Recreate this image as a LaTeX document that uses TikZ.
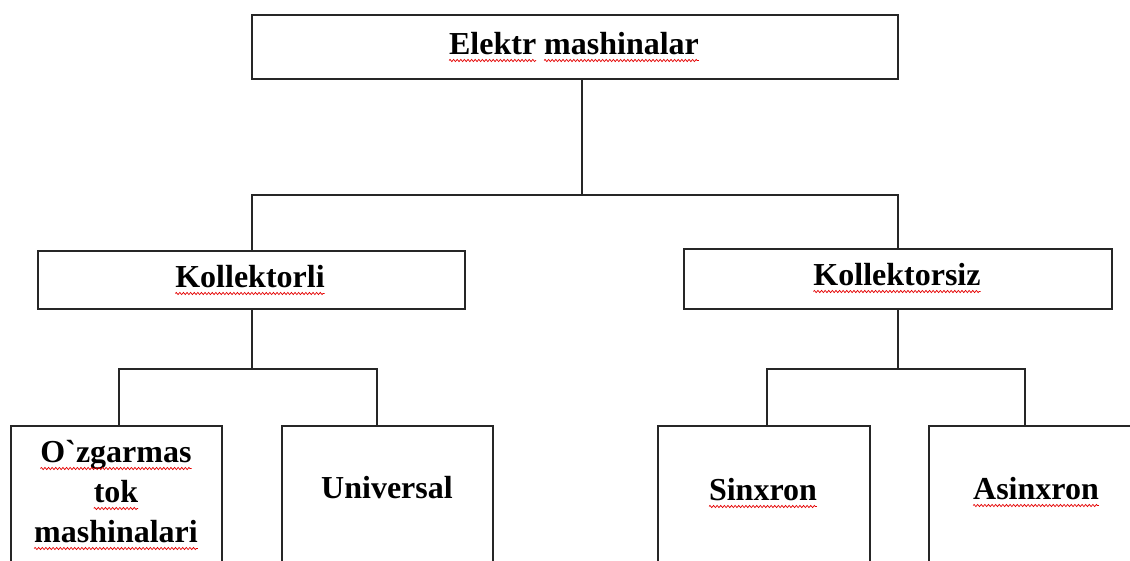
\documentclass[tikz,border=0pt]{standalone}
\usepackage{fontspec}
\setmainfont{Liberation Serif}[Ligatures=TeXOff]
\usetikzlibrary{calc,decorations.pathmorphing}
\tikzset{
  box/.style={draw=black!85, line width=1.8pt, rectangle, inner sep=0pt, outer sep=0pt, fill=white},
  conn/.style={draw=black!85, line width=1.8pt},
  lbl/.style={inner sep=0pt, outer sep=0pt, anchor=base, font=\bfseries\fontsize{32}{40}\selectfont},
  squig/.style={draw=red!90!black, line width=0.7pt, decorate, decoration={zigzag, amplitude=1.1pt, segment length=3.6pt}}
}
\begin{document}
\begin{tikzpicture}[x=1pt, y=-1pt]
\useasboundingbox (0,0) rectangle (1130,560);
\clip (0,0) rectangle (1130,560);
\fill[white] (0,0) rectangle (1130,560);

% boxes
\node[box, minimum width=646pt, minimum height=64pt] (top) at (575,47) {};
\node[box, minimum width=427pt, minimum height=58pt] (kl) at (251.5,280) {};
\node[box, minimum width=428pt, minimum height=60pt] (ks) at (898,279) {};
\node[box, minimum width=211pt, minimum height=200pt] (oz) at (116.5,526) {};
\node[box, minimum width=211pt, minimum height=200pt] (un) at (387.5,526) {};
\node[box, minimum width=212pt, minimum height=200pt] (sx) at (764,526) {};
\node[box, minimum width=211pt, minimum height=200pt] (as) at (1034.5,526) {};

% connectors
\coordinate (j0) at (582,195);
\coordinate (j0l) at (252,195);
\draw[conn] (top.south -| j0) -- (j0);
\draw[conn] (kl.north -| j0l) -- (j0l) -- (ks.north |- j0) -- (ks.north);

\coordinate (j1) at (252,369);
\coordinate (j1l) at (119,369);
\coordinate (j1r) at (377,369);
\draw[conn] (kl.south -| j1) -- (j1);
\draw[conn] (oz.north -| j1l) -- (j1l) -- (j1r) -- (un.north -| j1r);

\coordinate (j2) at (898,369);
\coordinate (j2l) at (767,369);
\coordinate (j2r) at (1025,369);
\draw[conn] (ks.south) -- (j2);
\draw[conn] (sx.north -| j2l) -- (j2l) -- (j2r) -- (as.north -| j2r);

% texts
\node[lbl] (tem) at (574,54) {Elektr mashinalar};
\node[lbl] (tkl) at (250,287) {Kollektorli};
\node[lbl] (tks) at (897,285) {Kollektorsiz};
\node[lbl] (toz1) at (116,462) {O`zgarmas};
\node[lbl] (toz2) at (116,502) {tok};
\node[lbl] (toz3) at (116,542) {mashinalari};
\node[lbl] (tun) at (387,498) {Universal};
\node[lbl] (tsx) at (763,500) {Sinxron};
\node[lbl] (tas) at (1036,499) {Asinxron};

% spell-check underlines
\draw[squig] ($(tem.base west)+(0,6.5)$) -- ($(tem.base west)+(87,6.5)$);
\draw[squig] ($(tem.base west)+(95,6.5)$) -- ($(tem.base east)+(0,6.5)$);
\foreach \n in {tkl,tks,toz1,toz2,toz3,tsx,tas}{
  \draw[squig] ($(\n.base west)+(0,6.5)$) -- ($(\n.base east)+(0,6.5)$);
}
\end{tikzpicture}
\end{document}
